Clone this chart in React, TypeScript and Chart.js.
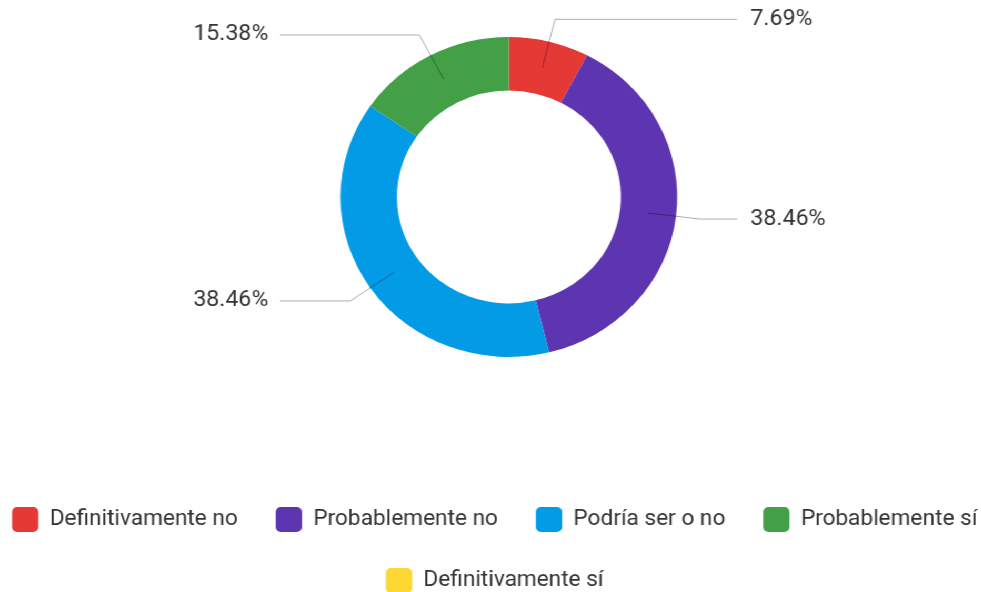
import React, { useEffect, useRef } from 'react';
import { Chart, registerables } from 'chart.js';

Chart.register(...registerables);

// ---- data ----
const categories = [
  'Definitivamente no',
  'Probablemente no',
  'Podría ser o no',
  'Probablemente sí',
  'Definitivamente sí',
];
const counts = [1, 5, 5, 2, 0];
const colors = ['#E53935', '#5E35B1', '#039BE5', '#43A047', '#FDD835'];

// ---- layout / style ----
const STRETCH = 1.0525;
const CANVAS_W = 932;
const CANVAS_H = 592;
const CENTER_X = 483.5;
const CENTER_Y = 197;
const OUTER_R = 160;
const ELBOW_GAP = 23;
const LINE_END_RIGHT = 700.5;
const TEXT_RIGHT = 713;
const LINE_END_LEFT = 266;
const TEXT_LEFT = 255;
const FONT_FAMILY = 'Roboto';
const TEXT_COLOR = '#333333';

const areaPlugin = {
  id: 'fixedArea',
  afterLayout(chart: any) {
    const a = chart.chartArea;
    a.left = CENTER_X - 220;
    a.right = CENTER_X + 220;
    a.top = CENTER_Y - 197;
    a.bottom = CENTER_Y + 197;
    a.width = a.right - a.left;
    a.height = a.bottom - a.top;
  },
};

const calloutPlugin = {
  id: 'callouts',
  afterDatasetsDraw(chart: any) {
    const ctx = chart.ctx;
    const meta = chart.getDatasetMeta(0);
    const values: number[] = chart.data.datasets[0].data;
    const total = values.reduce((s, v) => s + v, 0);
    ctx.save();
    ctx.font = `22px ${FONT_FAMILY}`;
    ctx.textBaseline = 'middle';
    ctx.lineWidth = 1;
    meta.data.forEach((arc: any, i: number) => {
      const v = values[i];
      if (!v) return;
      const { x, y, startAngle, endAngle, innerRadius, outerRadius } = arc.getProps(
        ['x', 'y', 'startAngle', 'endAngle', 'innerRadius', 'outerRadius'],
        true
      );
      const a = (startAngle + endAngle) / 2;
      const rMid = (innerRadius + outerRadius) / 2;
      const sx = x + Math.cos(a) * rMid;
      const sy = y + Math.sin(a) * rMid;
      const rE = outerRadius + ELBOW_GAP;
      const ex = x + Math.cos(a) * rE;
      const ey = y + Math.sin(a) * rE;
      const right = Math.cos(a) >= 0;
      ctx.strokeStyle = 'rgba(0,0,0,0.33)';
      ctx.beginPath();
      ctx.moveTo(sx, sy);
      ctx.lineTo(ex, ey);
      ctx.lineTo(right ? LINE_END_RIGHT : LINE_END_LEFT, ey);
      ctx.stroke();
      ctx.fillStyle = TEXT_COLOR;
      ctx.textAlign = right ? 'left' : 'right';
      const label = ((v / total) * 100).toFixed(2) + '%';
      ctx.fillText(label, right ? TEXT_RIGHT : TEXT_LEFT, ey);
    });
    ctx.restore();
  },
};

export default function App() {
  const ref = useRef<HTMLCanvasElement>(null);
  useEffect(() => {
    if (!ref.current) return;
    const chart = new Chart(ref.current, {
      type: 'doughnut',
      data: {
        labels: categories,
        datasets: [
          {
            data: counts,
            backgroundColor: colors,
            borderWidth: 0,
            radius: OUTER_R,
            clip: false,
          } as any,
        ],
      },
      options: {
        animation: false,
        responsive: true,
        maintainAspectRatio: false,
        cutout: '66.5%',
        layout: { padding: { left: -36, right: -44, top: 0, bottom: -11 } },
        plugins: {
          tooltip: { enabled: false },
          legend: {
            position: 'bottom',
            labels: {
              boxWidth: 25,
              boxHeight: 25,
              padding: 36,
              color: TEXT_COLOR,
              font: { family: FONT_FAMILY, size: 21.5 },
              generateLabels: () =>
                categories.map((c, i) => ({
                  text: c,
                  fillStyle: colors[i],
                  strokeStyle: colors[i],
                  lineWidth: 0,
                  borderRadius: 5,
                  hidden: false,
                  index: i,
                  fontColor: TEXT_COLOR,
                })),
            },
          },
        },
      } as any,
      plugins: [areaPlugin, calloutPlugin],
    });
    return () => chart.destroy();
  }, []);
  return (
    <div
      style={{
        position: 'absolute',
        left: 0,
        top: 0,
        width: CANVAS_W,
        height: CANVAS_H,
        transform: `scaleX(${STRETCH})`,
        transformOrigin: '0 0',
        background: '#fff',
      }}
    >
      <canvas ref={ref} />
    </div>
  );
}
